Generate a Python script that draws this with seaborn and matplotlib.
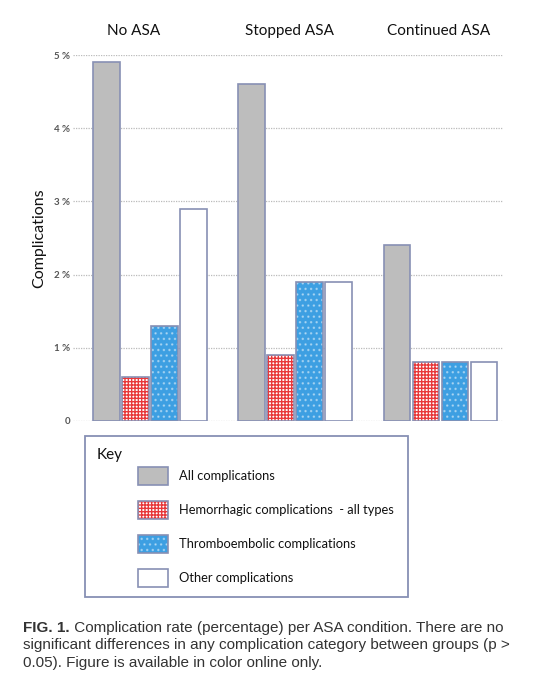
import pandas as pd
import seaborn as sns
import matplotlib.pyplot as plt
import matplotlib.patches as mpatches
from matplotlib import font_manager
from matplotlib.colors import to_rgba

# Complication rate (%) per ASA condition
conditions = ["No ASA", "Stopped ASA", "Continued ASA"]
complication_types = [
    "All complications",
    "Hemorrhagic complications  - all types",
    "Thromboembolic complications",
    "Other complications",
]
all_compl = [4.9, 4.6, 2.4]
hemorrhagic = [0.6, 0.9, 0.8]
thromboembolic = [1.3, 1.9, 0.8]
other = [2.9, 1.9, 0.8]
y_ticks = [0, 1, 2, 3, 4, 5]
y_tick_labels = ["0", "1 %", "2 %", "3 %", "4 %", "5 %"]

rows = []
for name, vals in zip(complication_types, [all_compl, hemorrhagic, thromboembolic, other]):
    for cond, v in zip(conditions, vals):
        rows.append({"condition": cond, "type": name, "rate": v})
df = pd.DataFrame(rows)

sns.set_style("white")
plt.rcParams["font.family"] = ["Lato", "DejaVu Sans"]
plt.rcParams["hatch.linewidth"] = 1.0

names = {f.name for f in font_manager.fontManager.ttflist}
cap_font = "Liberation Sans Narrow" if "Liberation Sans Narrow" in names else "Liberation Sans"
cap_size = 12 if cap_font == "Liberation Sans Narrow" else 11

edge = "#8790b4"
fills = ["#bdbdbd", "white", "#3d9fe2", "white"]
hatches = [None, "+++++", "...", None]
hatch_cols = [None, "#e8383a", (1, 1, 1, 0.4), None]

fig = plt.figure(figsize=(5.48, 6.80), dpi=100)
ax = fig.add_axes([0.1332, 0.381, 0.7847, 0.538])

sns.barplot(data=df, x="condition", y="rate", hue="type", order=conditions,
            hue_order=complication_types, palette=fills, width=0.8, gap=0.08,
            edgecolor=edge, linewidth=1.2, saturation=1, legend=False, ax=ax)


def style_patch(p, i):
    p.set_facecolor(fills[i])
    p.set_edgecolor(edge)
    if hatches[i]:
        p.set_hatch(hatches[i])
        if hasattr(p, "set_hatchcolor"):
            p.set_hatchcolor(hatch_cols[i])
        else:
            p._hatch_color = to_rgba(hatch_cols[i])


for i, cont in enumerate(ax.containers):
    for p in cont:
        style_patch(p, i)

ax.set_xlim(-0.53, 2.43)
ax.set_ylim(0, 5)
for spine in ax.spines.values():
    spine.set_visible(False)
ax.set_yticks(y_ticks)
ax.set_yticklabels(y_tick_labels, fontsize=7, fontweight="bold", color="#555555")
ax.tick_params(axis="y", length=0, pad=2)
for t in y_ticks:
    ax.axhline(t, color="#bbbbbb", lw=0.9, ls=(0, (1, 1)), zorder=0)

# group titles on top
ax.xaxis.tick_top()
ax.set_xticks([-0.11, 0.96, 1.99])
ax.set_xticklabels(conditions, fontsize=11, color="#111111")
ax.tick_params(axis="x", length=0, pad=12)
ax.set_xlabel("")
ax.set_ylabel("Complications", fontsize=11.5, color="#111111", labelpad=6)

# key box
fig.patches.append(mpatches.Rectangle((0.155, 0.122), 0.59, 0.237, transform=fig.transFigure,
                                      fill=False, edgecolor=edge, lw=1.3))
fig.text(0.177, 0.331, "Key", fontsize=11, color="#111111", va="center")
handles = []
for i, name in enumerate(complication_types):
    h = mpatches.Patch(label=name)
    style_patch(h, i)
    h.set_linewidth(1.2)
    handles.append(h)
fig.legend(handles=handles, loc="upper left", bbox_to_anchor=(0.252, 0.313),
           frameon=False, fontsize=9.3, handlelength=2.3, handleheight=1.75,
           labelspacing=1.25, handletextpad=0.85, borderpad=0, borderaxespad=0,
           labelcolor="#111111")

# caption
cap_color = "#333333"
b = fig.text(0.042, 1 - 632 / 680, "FIG. 1.", fontsize=cap_size, fontweight="bold",
             family=cap_font, color=cap_color, va="baseline")
ax.annotate(" Complication rate (percentage) per ASA condition. There are no",
            xy=(1, 0), xycoords=b, va="bottom", ha="left", fontsize=cap_size,
            family=cap_font, color=cap_color)
fig.text(0.042, 1 - 649.5 / 680,
         "significant differences in any complication category between groups (p >",
         fontsize=cap_size, family=cap_font, color=cap_color, va="baseline")
fig.text(0.042, 1 - 667 / 680, "0.05). Figure is available in color online only.",
         fontsize=cap_size, family=cap_font, color=cap_color, va="baseline")

fig.savefig("out.png", dpi=100)
